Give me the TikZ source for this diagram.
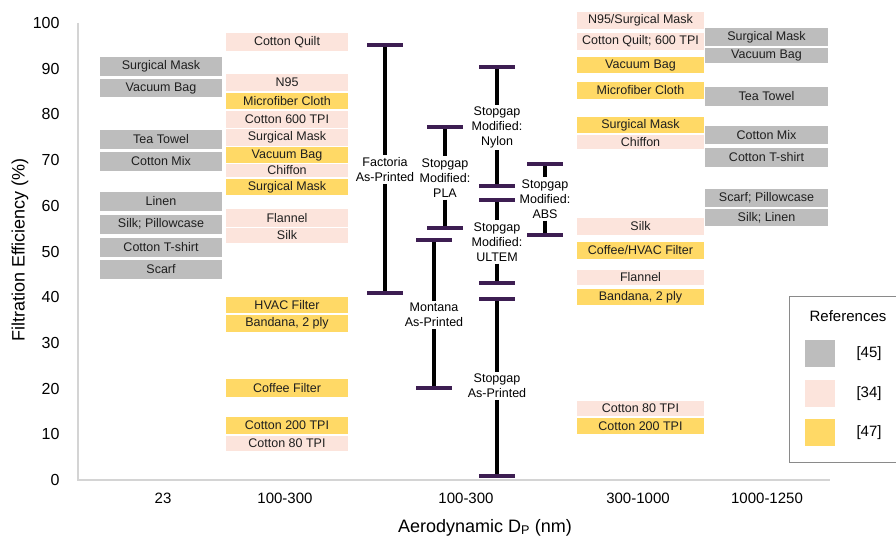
\documentclass[tikz,border=0pt]{standalone}
\usepackage{fontspec}
\setmainfont{Liberation Sans}
\usetikzlibrary{calc}
\definecolor{cgray}{HTML}{BDBDBD}
\definecolor{cpink}{HTML}{FCE4DC}
\definecolor{cyel}{HTML}{FFD966}
\definecolor{cpurp}{HTML}{3D1E52}
\definecolor{caxis}{HTML}{D4D4D4}
\definecolor{clegb}{HTML}{8A8A8A}
\newcommand\ebar[6]{%
  \coordinate (#1T) at (#2,#3);
  \coordinate (#1B) at (#2,#4);
  \node[elab] (#1L) at (#2,#5) {#6};
  \draw[vbar] (#1T) -- (#1L.north);
  \draw[vbar] (#1L.south) -- (#1B);
  \draw[capl] ($(#1T)+(-18,0)$) -- ($(#1T)+(18,0)$);
  \draw[capl] ($(#1B)+(-18,0)$) -- ($(#1B)+(18,0)$);
}
\begin{document}
\begin{tikzpicture}[x=1pt,y=-1pt,
  mat/.style={rectangle, inner sep=0pt, font=\fontsize{12.5}{15}\selectfont, text=black!88},
  colA/.style={mat, fill=cgray, minimum width=122pt},
  colB/.style={mat, minimum width=122pt},
  colD/.style={mat, minimum width=127pt},
  colE/.style={mat, fill=cgray, minimum width=123pt},
  pk/.style={fill=cpink},
  yl/.style={fill=cyel},
  elab/.style={align=center, inner sep=2pt, font=\fontsize{12.5}{15}\selectfont},
  vbar/.style={black, line width=3.5pt},
  capl/.style={cpurp, line width=3.5pt},
  tick/.style={anchor=east, font=\fontsize{16}{18}\selectfont},
  cat/.style={font=\fontsize{15}{18}\selectfont},
  axtitle/.style={font=\fontsize{18}{20}\selectfont},
  legtxt/.style={font=\fontsize{15}{18}\selectfont},
  sw/.style={minimum width=30pt, minimum height=27pt, inner sep=0pt}
]
\useasboundingbox (0,0) rectangle (896,540);

% axes
\draw[caxis, line width=1.5pt] (78,23) -- (78,480) -- (830,480);
\foreach \v in {0,10,...,100}
  \node[tick] (t\v) at (63,{480-4.57*\v}) {\v};

% categories
\node[cat] (x1) at (163,498) {23};
\node[cat] (x2) at (285,498) {100-300};
\node[cat] (x3) at (466,498) {100-300};
\node[cat] (x4) at (638,498) {300-1000};
\node[cat] (x5) at (767,498) {1000-1250};

\node[axtitle, anchor=base] (xlab) at (485,532) {Aerodynamic D\textsubscript{P} (nm)};
\node[axtitle, rotate=90] (ylab) at (20,250) {Filtration Efficiency (\%)};

% column 1 (gray)
\node[colA, minimum height=19pt] (a1) at (161,66.5) {Surgical Mask};
\node[colA, minimum height=18pt] (a2) at (161,88) {Vacuum Bag};
\node[colA, minimum height=19pt] (a3) at (161,139.5) {Tea Towel};
\node[colA, minimum height=19pt] (a4) at (161,161.5) {Cotton Mix};
\node[colA, minimum height=19pt] (a5) at (161,201.5) {Linen};
\node[colA, minimum height=19pt] (a6) at (161,224) {Silk; Pillowcase};
\node[colA, minimum height=19pt] (a7) at (161,247.5) {Cotton T-shirt};
\node[colA, minimum height=19pt] (a8) at (161,269) {Scarf};

% column 2
\node[colB, pk, minimum height=18pt] (b1) at (287,42) {Cotton Quilt};
\node[colB, pk, minimum height=17pt] (b2) at (287,82.5) {N95};
\node[colB, yl, minimum height=16pt] (b3) at (287,101) {Microfiber Cloth};
\node[colB, pk, minimum height=17pt] (b4) at (287,119.5) {Cotton 600 TPI};
\node[colB, pk, minimum height=17pt] (b5) at (287,137.5) {Surgical Mask};
\node[colB, yl, minimum height=16pt] (b6) at (287,155) {Vacuum Bag};
\node[colB, pk, minimum height=13pt] (b7) at (287,170.5) {Chiffon};
\node[colB, yl, minimum height=16pt] (b8) at (287,187) {Surgical Mask};
\node[colB, pk, minimum height=18pt] (b9) at (287,218) {Flannel};
\node[colB, pk, minimum height=15pt] (b10) at (287,235.5) {Silk};
\node[colB, yl, minimum height=16pt] (b11) at (287,305) {HVAC Filter};
\node[colB, yl, minimum height=17pt] (b12) at (287,323.5) {Bandana, 2 ply};
\node[colB, yl, minimum height=18pt] (b13) at (287,388) {Coffee Filter};
\node[colB, yl, minimum height=17pt] (b14) at (287,425.5) {Cotton 200 TPI};
\node[colB, pk, minimum height=15pt] (b15) at (287,443.5) {Cotton 80 TPI};

% column 4
\node[colD, pk, minimum height=17pt] (d1) at (640.5,20.5) {N95/Surgical Mask};
\node[colD, pk, minimum height=17pt] (d2) at (640.5,41.5) {Cotton Quilt; 600 TPI};
\node[colD, yl, minimum height=16pt] (d3) at (640.5,65) {Vacuum Bag};
\node[colD, yl, minimum height=17pt] (d4) at (640.5,90.5) {Microfiber Cloth};
\node[colD, yl, minimum height=16pt] (d5) at (640.5,125) {Surgical Mask};
\node[colD, pk, minimum height=14pt] (d6) at (640.5,142) {Chiffon};
\node[colD, pk, minimum height=17pt] (d7) at (640.5,226.5) {Silk};
\node[colD, yl, minimum height=17pt] (d8) at (640.5,250.5) {Coffee/HVAC Filter};
\node[colD, pk, minimum height=15pt] (d9) at (640.5,277.5) {Flannel};
\node[colD, yl, minimum height=16pt] (d10) at (640.5,297) {Bandana, 2 ply};
\node[colD, pk, minimum height=15pt] (d11) at (640.5,408.5) {Cotton 80 TPI};
\node[colD, yl, minimum height=16pt] (d12) at (640.5,426) {Cotton 200 TPI};

% column 5 (gray)
\node[colE, minimum height=18pt] (e1) at (766.5,37) {Surgical Mask};
\node[colE, minimum height=15pt] (e2) at (766.5,55.5) {Vacuum Bag};
\node[colE, minimum height=19pt] (e3) at (766.5,96.5) {Tea Towel};
\node[colE, minimum height=18pt] (e4) at (766.5,135) {Cotton Mix};
\node[colE, minimum height=19pt] (e5) at (766.5,157.5) {Cotton T-shirt};
\node[colE, minimum height=18pt] (e6) at (766.5,198) {Scarf; Pillowcase};
\node[colE, minimum height=17pt] (e7) at (766.5,217.5) {Silk; Linen};

% error bars
\ebar{fa}{385}{45}{293}{169.5}{Factoria\\As-Printed}
\ebar{pl}{445}{127}{228}{178}{Stopgap\\Modified:\\PLA}
\ebar{mo}{434}{240}{388}{315}{Montana\\As-Printed}
\ebar{ny}{497}{67}{186}{127.5}{Stopgap\\Modified:\\Nylon}
\ebar{ul}{497}{200}{283}{242}{Stopgap\\Modified:\\ULTEM}
\ebar{sa}{497}{299}{476}{386}{Stopgap\\As-Printed}
\ebar{ab}{545}{164}{235}{199}{Stopgap\\Modified:\\ABS}

% legend
\draw[clegb, line width=1pt] (896,296) -| (789,462) -- (896,462);
\node[legtxt] (lgt) at (848,316) {References};
\node[sw, fill=cgray] (lg1) at (820,353.5) {};
\node[sw, fill=cpink] (lg2) at (820,393.5) {};
\node[sw, fill=cyel] (lg3) at (820,432.5) {};
\node[legtxt] (ll1) at (869,353.5) {[45]};
\node[legtxt] (ll2) at (869,393.5) {[34]};
\node[legtxt] (ll3) at (869,432.5) {[47]};
\end{tikzpicture}
\end{document}
